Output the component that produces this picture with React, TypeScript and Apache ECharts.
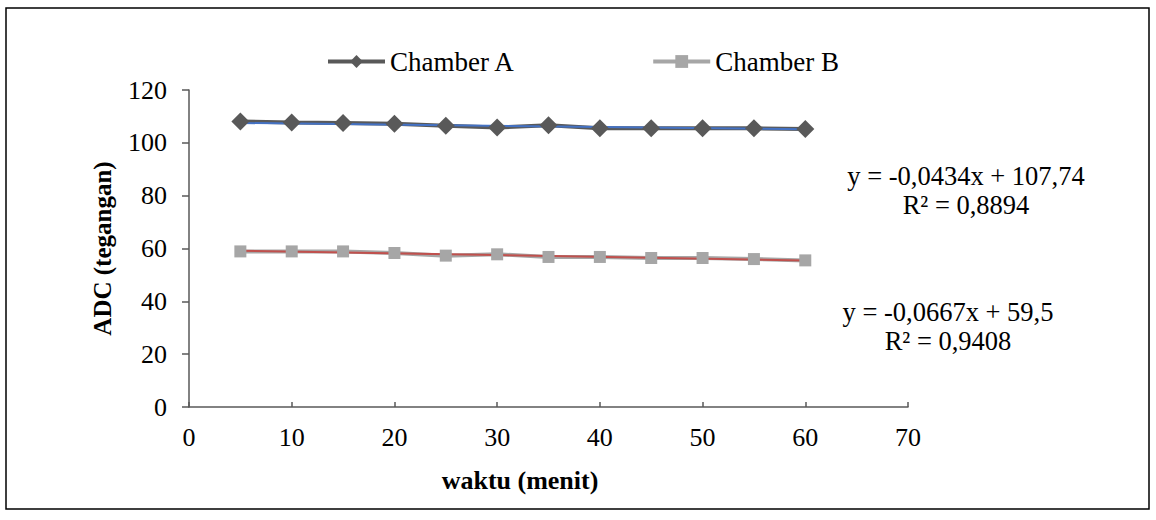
import React, { useEffect, useRef } from "react";
import * as echarts from "echarts";

const minutes = [5, 10, 15, 20, 25, 30, 35, 40, 45, 50, 55, 60];
const chamberA = [108.1, 107.7, 107.5, 107.2, 106.5, 105.8, 106.7, 105.5, 105.5, 105.5, 105.5, 105.2];
const chamberB = [58.9, 58.9, 58.9, 58.3, 57.3, 57.8, 56.8, 56.8, 56.4, 56.4, 56.0, 55.5];
const trendASlope = -0.0434;
const trendAIntercept = 107.74;
const trendBSlope = -0.0667;
const trendBIntercept = 59.5;
const eqA = ["y = -0,0434x + 107,74", "R² = 0,8894"];
const eqB = ["y = -0,0667x + 59,5", "R² = 0,9408"];
const seriesNames = ["Chamber A", "Chamber B"];

const FONT = "'Liberation Serif', 'Times New Roman', serif";

export default function App() {
  const ref = useRef<HTMLDivElement>(null);
  useEffect(() => {
    if (!ref.current) return;
    const chart = echarts.init(ref.current, null, { renderer: "svg" });
    const xStart = minutes[0];
    const xEnd = minutes[minutes.length - 1];
    const option = {
      animation: false,
      backgroundColor: "#ffffff",
      textStyle: { fontFamily: FONT },
      grid: { left: 189, right: 248, top: 90, bottom: 113, containLabel: false },
      legend: {
        data: [
          { name: seriesNames[0], lineStyle: { width: 4, color: "#595959" }, itemStyle: { color: "#595959" } },
          { name: seriesNames[1], lineStyle: { width: 4, color: "#A6A6A6" }, itemStyle: { color: "#A6A6A6" } },
        ],
        left: 326,
        top: 48,
        padding: 0,
        itemWidth: 57,
        itemHeight: 16,
        itemGap: 136,
        textStyle: { fontFamily: FONT, fontSize: 27, color: "#000" },
      },
      xAxis: {
        type: "value",
        min: 0,
        max: 70,
        interval: 10,
        axisLine: { show: true, lineStyle: { color: "#595959", width: 1.5 } },
        axisTick: { show: true, inside: true, length: 5, lineStyle: { color: "#595959", width: 1.5 } },
        axisLabel: { fontFamily: FONT, fontSize: 26, color: "#000", margin: 17 },
        splitLine: { show: false },
      },
      yAxis: {
        type: "value",
        min: 0,
        max: 120,
        interval: 20,
        name: "ADC (tegangan)",
        nameLocation: "middle",
        nameGap: 74,
        nameTextStyle: { fontFamily: FONT, fontSize: 25, fontWeight: "bold", color: "#000" },
        axisLine: { show: true, lineStyle: { color: "#595959", width: 1.5 } },
        axisTick: { show: true, inside: false, length: 7, lineStyle: { color: "#595959", width: 1.5 } },
        axisLabel: { fontFamily: FONT, fontSize: 26, color: "#000", margin: 22 },
        splitLine: { show: false },
      },
      graphic: [
        {
          type: "rect",
          shape: { x: 6, y: 8, width: 1143, height: 501 },
          style: { fill: "none", stroke: "#000", lineWidth: 1.5 },
          z: -1,
        },
        {
          type: "text",
          x: 520,
          y: 480,
          style: { text: "waktu (menit)", font: `bold 26px ${FONT}`, fill: "#000", align: "center", verticalAlign: "middle" },
        },
        {
          type: "text",
          x: 966,
          y: 176,
          style: { text: eqA[0], font: `26.5px ${FONT}`, fill: "#000", align: "center", verticalAlign: "middle" },
        },
        {
          type: "text",
          x: 966,
          y: 205,
          style: { text: eqA[1], font: `26.5px ${FONT}`, fill: "#000", align: "center", verticalAlign: "middle" },
        },
        {
          type: "text",
          x: 948,
          y: 312,
          style: { text: eqB[0], font: `26.5px ${FONT}`, fill: "#000", align: "center", verticalAlign: "middle" },
        },
        {
          type: "text",
          x: 948,
          y: 341,
          style: { text: eqB[1], font: `26.5px ${FONT}`, fill: "#000", align: "center", verticalAlign: "middle" },
        },
      ],
      series: [
        {
          name: seriesNames[0],
          type: "line",
          data: minutes.map((m, i) => [m, chamberA[i]]),
          symbol: "diamond",
          symbolSize: 18,
          lineStyle: { color: "#595959", width: 4 },
          itemStyle: { color: "#595959" },
        },
        {
          name: seriesNames[1],
          type: "line",
          data: minutes.map((m, i) => [m, chamberB[i]]),
          symbol: "rect",
          symbolSize: 12,
          lineStyle: { color: "#A6A6A6", width: 4 },
          itemStyle: { color: "#A6A6A6" },
        },
        {
          name: "Linear (Chamber A)",
          type: "line",
          data: [
            [xStart, trendASlope * xStart + trendAIntercept],
            [xEnd, trendASlope * xEnd + trendAIntercept],
          ],
          symbol: "none",
          lineStyle: { color: "#4472C4", width: 2 },
          silent: true,
          z: 3,
        },
        {
          name: "Linear (Chamber B)",
          type: "line",
          data: [
            [xStart, trendBSlope * xStart + trendBIntercept],
            [xEnd, trendBSlope * xEnd + trendBIntercept],
          ],
          symbol: "none",
          lineStyle: { color: "#C0504D", width: 2 },
          silent: true,
          z: 3,
        },
      ],
    };
    chart.setOption(option as any);
    return () => chart.dispose();
  }, []);
  return (
    <div
      ref={ref}
      style={{ position: "fixed", left: 0, top: 0, width: 1156, height: 520 }}
    />
  );
}
